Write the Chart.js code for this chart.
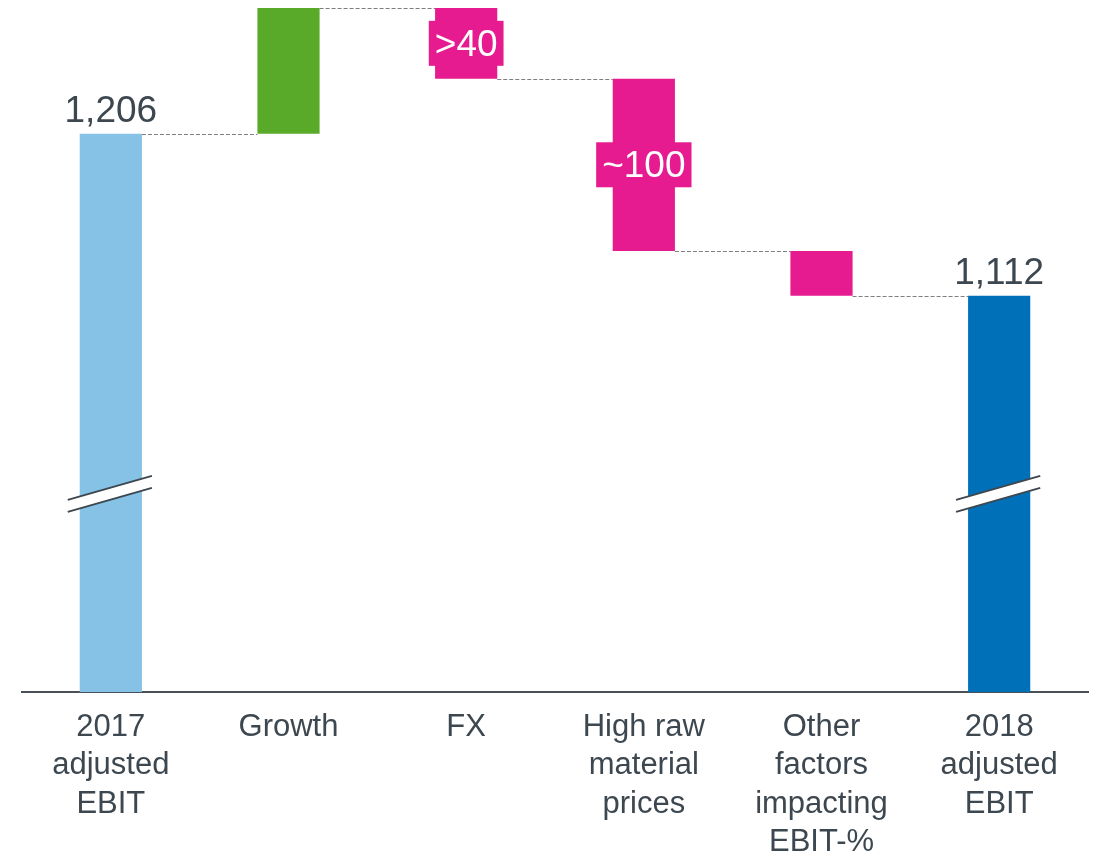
<!DOCTYPE html>
<html>
<head>
<meta charset="utf-8">
<script src="https://cdn.jsdelivr.net/npm/chart.js@4"></script>
<style>
  html, body { margin: 0; padding: 0; background: #fff; }
  #wrap { width: 1099px; height: 855px; position: relative; }
</style>
</head>
<body>
<div id="wrap"><canvas id="myChart"></canvas></div>
<script>
// waterfall data (EUR m, adjusted EBIT bridge)
var categories = [
  ['2017', 'adjusted', 'EBIT'],
  'Growth',
  'FX',
  ['High raw', 'material', 'prices'],
  ['Other', 'factors', 'impacting', 'EBIT-%'],
  ['2018', 'adjusted', 'EBIT']
];
var values = [1206, 73, -41, -100, -26, 1112];
var isTotal = [true, false, false, false, false, true];
var valueLabels = ['1,206', '', '>40', '~100', '', '1,112'];
var axisMin = 882;     // axis is broken, bars start here
var axisMax = 1279;
var breakAt = 997;     // where the // marks sit on the total bars

var barColors = ['#86c2e6', '#5aaa2a', '#e51b8f', '#e51b8f', '#e51b8f', '#0071b9'];
var textColor = '#3d4750';
var fontFamily = "'Liberation Sans', Arial, sans-serif";

// build floating bars + connector levels
var floating = [];
var levels = [];
var running = 0;
values.forEach(function(v, i) {
  if (isTotal[i]) {
    floating.push([axisMin, v]);
    running = v;
  } else {
    floating.push([Math.min(running, running + v), Math.max(running, running + v)]);
    running += v;
  }
  levels.push(running);
});

var waterfallExtras = {
  id: 'waterfallExtras',
  afterDatasetsDraw: function(chart) {
    var ctx = chart.ctx;
    var y = chart.scales.y;
    var bars = chart.getDatasetMeta(0).data;

    // dashed connectors
    ctx.save();
    ctx.strokeStyle = '#7f7f7f';
    ctx.lineWidth = 1;
    ctx.setLineDash([4, 2]);
    for (var i = 0; i < bars.length - 1; i++) {
      var py = Math.round(y.getPixelForValue(levels[i])) + 0.5;
      ctx.beginPath();
      ctx.moveTo(bars[i].x + bars[i].width / 2, py);
      ctx.lineTo(bars[i + 1].x - bars[i + 1].width / 2, py);
      ctx.stroke();
    }
    ctx.restore();

    // axis break marks on total bars
    ctx.save();
    bars.forEach(function(bar, i) {
      if (!isTotal[i]) return;
      var cy = y.getPixelForValue(breakAt);
      var x1 = bar.x - bar.width / 2 - 12;
      var x2 = bar.x + bar.width / 2 + 10;
      ctx.fillStyle = '#fff';
      ctx.beginPath();
      ctx.moveTo(x1, cy + 6);
      ctx.lineTo(x2, cy - 18);
      ctx.lineTo(x2, cy - 6);
      ctx.lineTo(x1, cy + 18);
      ctx.closePath();
      ctx.fill();
      ctx.strokeStyle = '#3d4750';
      ctx.lineWidth = 2;
      ctx.beginPath();
      ctx.moveTo(x1, cy + 6);
      ctx.lineTo(x2, cy - 18);
      ctx.moveTo(x1, cy + 18);
      ctx.lineTo(x2, cy - 6);
      ctx.stroke();
    });
    ctx.restore();

    // value labels
    ctx.save();
    ctx.font = '37px ' + fontFamily;
    ctx.textAlign = 'center';
    bars.forEach(function(bar, i) {
      var txt = valueLabels[i];
      if (!txt) return;
      if (isTotal[i]) {
        ctx.fillStyle = textColor;
        ctx.textBaseline = 'alphabetic';
        ctx.fillText(txt, bar.x, Math.min(bar.y, bar.base) - 12);
      } else {
        var top = Math.min(bar.y, bar.base);
        var bottom = Math.max(bar.y, bar.base);
        var cy = (top + bottom) / 2;
        var w = ctx.measureText(txt).width + 12;
        ctx.fillStyle = barColors[i];
        ctx.fillRect(bar.x - w / 2, cy - 22.5, w, 45);
        ctx.fillStyle = '#fff';
        ctx.textBaseline = 'middle';
        ctx.fillText(txt, bar.x, cy + 2);
      }
    });
    ctx.restore();
  }
};

var ctx = document.getElementById('myChart').getContext('2d');
var myChart = new Chart(ctx, {
  type: 'bar',
  data: {
    labels: categories,
    datasets: [{
      data: floating,
      backgroundColor: barColors,
      borderWidth: 0,
      barPercentage: 0.35,
      categoryPercentage: 1
    }]
  },
  options: {
    responsive: true,
    maintainAspectRatio: false,
    animation: false,
    layout: { padding: { top: 8, left: 22, right: 11, bottom: 0 } },
    plugins: {
      legend: { display: false },
      tooltip: { enabled: false }
    },
    scales: {
      x: {
        grid: { display: false, drawTicks: false },
        border: { display: true, color: '#4a5058', width: 2 },
        ticks: {
          color: textColor,
          font: { family: fontFamily, size: 31, lineHeight: 1.24 },
          padding: 16,
          maxRotation: 0,
          autoSkip: false
        },
        afterFit: function(scale) { scale.height = 163; }
      },
      y: {
        display: false,
        min: axisMin,
        max: axisMax
      }
    }
  },
  plugins: [waterfallExtras]
});
</script>
</body>
</html>
